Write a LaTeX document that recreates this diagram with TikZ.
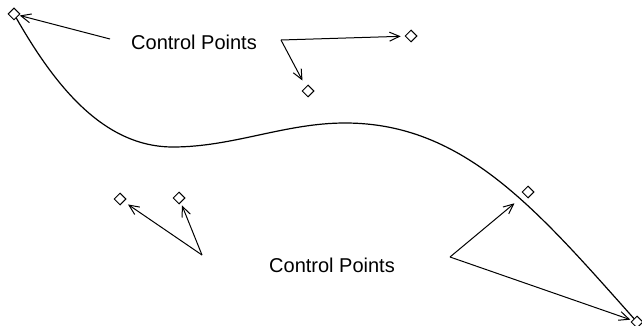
\documentclass[tikz,border=0pt]{standalone}
\usepackage{fontspec}
\setmainfont{Liberation Sans}
\usetikzlibrary{shapes.geometric}
\usetikzlibrary{arrows.meta}
\tikzset{cp/.style={diamond,draw,fill=white,minimum size=6pt,inner sep=0pt,line width=0.5pt},
         ptr/.style={line width=0.5pt,-{Straight Barb[length=5pt,width=4.5pt]},shorten >=1.5pt},
         crv/.style={line width=0.6pt},
         lbl/.style={font=\fontsize{10}{12}\selectfont,inner sep=0pt}
         }
\begin{document}
\begin{tikzpicture}[x=0.5pt,y=-0.5pt]
        \useasboundingbox (0,0) rectangle (642,326);
        % the curve
        \draw[crv] (14,14) .. controls (54,85) and (103,147) .. (173,147)
          .. controls (233,147) and (285,123) .. (345,123)
          .. controls (465,123) and (538,211) .. (637,322);

        \node[cp] (p0) at (14,14) {};
        \node[cp] (p1) at (411,36) {};
        \node[cp] (p2) at (308,91) {};
        \node[cp] (p3) at (120,199) {};
        \node[cp] (p4) at (179,198) {};
        \node[cp] (p5) at (528,192) {};
        \node[cp] (p6) at (637,322) {};

        \node[lbl] (top) at (194,42) {Control Points};
        \node[lbl] (bot) at (332,265) {Control Points};

        \coordinate (ta) at (110,39);
        \coordinate (tb) at (281,40);
        \coordinate (ba) at (202,255);
        \coordinate (bb) at (450,257);

        \draw[ptr,shorten >=0.3pt] (ta) -- (p0);
        \draw[ptr,shorten >=2pt] (tb) -- (p1);
        \draw[ptr,shorten >=3.5pt] (tb) -- (p2);
        \draw[ptr,shorten >=2.5pt] (ba) -- (p3);
        \draw[ptr] (ba) -- (p4);
        \draw[ptr,shorten >=6.5pt] (bb) -- (p5);
        \draw[ptr,shorten >=1pt] (bb) -- (p6);
\end{tikzpicture}
\end{document}
